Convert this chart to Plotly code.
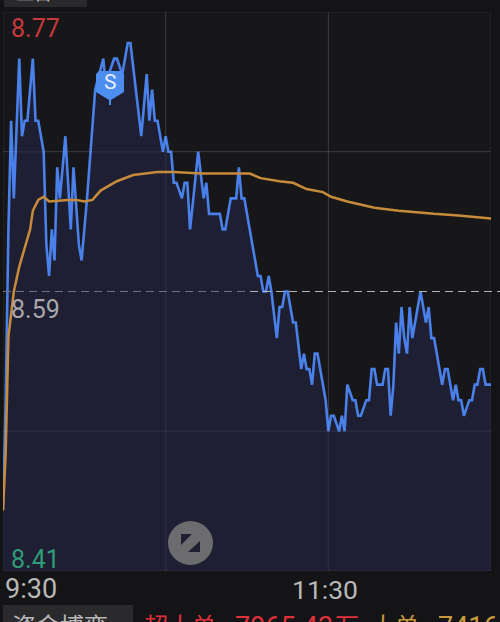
import plotly.graph_objects as go

minutes = [0,1,2,3,4,5,6,7,8,9,11,12,13,15,16,17,18,19,20,21,23,25,26,28,29,31,34,37,38,39,41,42,44,46,47,51,53,54,55,56,57,59,60,61,62,63,64,66,67,68,69,72,74,75,76,80,81,82,84,86,87,88,89,91,94,95,96,97,98,99,101,102,103,104,105,107,108,110,111,112,113,114,115,116,119,120,121,122,124,125,126,127,129,130,131,132,134,135,136,137,138,140,141,142,143,144,145,146,147,148,149,150,151,154,156,157,158,159,162,163,164,166,167,168,169,170,172,173,174,175,176,177,178,180]
prices = [8.45,8.52,8.63,8.70,8.65,8.70,8.74,8.69,8.70,8.70,8.74,8.70,8.70,8.68,8.62,8.60,8.63,8.61,8.67,8.65,8.69,8.63,8.67,8.62,8.61,8.65,8.72,8.74,8.72,8.73,8.74,8.74,8.73,8.75,8.75,8.69,8.73,8.70,8.72,8.70,8.70,8.68,8.69,8.68,8.68,8.66,8.66,8.65,8.66,8.66,8.63,8.68,8.65,8.66,8.64,8.64,8.63,8.63,8.65,8.65,8.67,8.65,8.65,8.63,8.60,8.60,8.59,8.59,8.60,8.59,8.56,8.58,8.58,8.59,8.59,8.57,8.57,8.54,8.55,8.54,8.54,8.53,8.55,8.55,8.52,8.50,8.51,8.51,8.50,8.51,8.50,8.53,8.52,8.52,8.51,8.51,8.52,8.52,8.54,8.54,8.53,8.53,8.54,8.54,8.51,8.53,8.57,8.55,8.58,8.56,8.55,8.58,8.56,8.59,8.57,8.58,8.56,8.56,8.53,8.54,8.54,8.52,8.53,8.52,8.52,8.51,8.52,8.52,8.53,8.53,8.54,8.54,8.53,8.53]

avg_minutes = [0,1,2,3,4,6,9,10,11,13,15,17,24,27,30,33,36,42,48,57,63,73,91,95,102,107,112,118,121,127,137,146,159,168,180]
avg_prices = [8.449,8.486,8.561,8.577,8.590,8.606,8.623,8.630,8.642,8.649,8.651,8.648,8.649,8.649,8.648,8.649,8.655,8.661,8.665,8.667,8.667,8.666,8.666,8.663,8.661,8.660,8.656,8.654,8.651,8.648,8.644,8.642,8.640,8.639,8.637]

grid_minutes = [0, 60, 120, 180]
grid_prices = [8.77, 8.68, 8.50, 8.41]
prev_close = 8.59
high_label, mid_label, low_label = "8.77", "8.59", "8.41"
time_labels = ["9:30", "11:30"]

W, H = 500, 622
L, R, T, B = 3, 491, 12, 571
def px(x): return (x - L) / (R - L)
def py(y): return (B - y) / (B - T)
def P(pts):
    return "M" + " L".join(f"{px(a):.4f},{py(b):.4f}" for a, b in pts) + " Z"

fig = go.Figure()
fig.add_trace(go.Scatter(x=minutes, y=prices, mode="lines", fill="tozeroy", fillcolor="#1e1f33",
                         line=dict(color="#4a80ea", width=2.6), hoverinfo="skip"))
fig.add_trace(go.Scatter(x=avg_minutes, y=avg_prices, mode="lines",
                         line=dict(color="#c78b3c", width=2.5), hoverinfo="skip"))

faint = "rgba(255,255,255,0.055)"
shapes = [dict(type="line", xref="x", yref="paper", x0=m, x1=m, y0=0, y1=1,
               line=dict(color=faint, width=1.5)) for m in grid_minutes]
shapes += [dict(type="line", xref="paper", yref="y", x0=0, x1=1, y0=p, y1=p,
                line=dict(color=faint, width=1.5)) for p in grid_prices]
shapes += [
    dict(type="line", xref="paper", yref="y", x0=0, x1=px(250), y0=prev_close, y1=prev_close,
         line=dict(color="#70707e", width=1.2, dash="8px,5px")),
    dict(type="line", xref="paper", yref="y", x0=px(250), x1=px(500), y0=prev_close, y1=prev_close,
         line=dict(color="#b4b4b4", width=1.2, dash="8px,5px")),
    # S badge
    dict(type="path", xref="paper", yref="paper", line=dict(width=0), fillcolor="#4d8df0",
         path=P([(99,71),(121,71),(124,74),(124,92),(111,100),(111,105),(109,105),(109,100),(96,92),(96,74)])),
    # round button
    dict(type="circle", xref="paper", yref="paper", x0=px(168), x1=px(213), y0=py(521), y1=py(565),
         line=dict(width=0), fillcolor="#6c6c6e"),
    dict(type="path", xref="paper", yref="paper", line=dict(width=0), fillcolor="#1e1f30",
         path=P([(181,534),(192,534),(181,545)])),
    dict(type="path", xref="paper", yref="paper", line=dict(width=0), fillcolor="#1e1f30",
         path=P([(200,541),(200,552),(188,552)])),
    # top tab and bottom tab
    dict(type="rect", xref="paper", yref="paper", x0=px(4), x1=px(87), y0=py(7), y1=py(-6),
         line=dict(width=0), fillcolor="#2a2a2c"),
    dict(type="rect", xref="paper", yref="paper", x0=px(3), x1=px(133), y0=py(640), y1=py(605),
         line=dict(width=0), fillcolor="#2a2a2c"),
]

def note(text, x, y, color, size, anchor="left", fam="Roboto"):
    return dict(text=text, xref="paper", yref="paper", x=px(x), y=py(y), xanchor=anchor, yanchor="middle",
                showarrow=False, font=dict(color=color, size=size, family=fam), xshift=0)

cjk = "Noto Sans CJK SC"
annotations = [
    note(high_label, 9, 29, "#c8393f", 25),
    note(mid_label, 9, 309, "#a8a8ac", 25),
    note(low_label, 9, 559, "#2f9b78", 25),
    note(time_labels[0], 3, 589, "#b8b8b8", 27),
    note(time_labels[1], 325, 589, "#b8b8b8", 26.5, anchor="center"),
    note("S", 110, 82, "#e8f0ff", 21, anchor="center"),
    note("资金博弈", 10, 624, "#b8b8b8", 24, fam=cjk),
    note("超大单:", 142, 624, "#e0303a", 24, fam=cjk),
    note("7965.43", 233, 627, "#e0303a", 27),
    note("万", 333, 624, "#e0303a", 24, fam=cjk),
    note("大单:", 369, 624, "#c89a3c", 24, fam=cjk),
    note("7416", 436, 627, "#c89a3c", 27),
    note("五日", 14, -8, "#c8c8c8", 18, fam=cjk),
]

fig.update_layout(
    width=W, height=H, margin=dict(l=L, r=W - R, t=T, b=H - B, pad=0, autoexpand=False),
    paper_bgcolor="#141416", plot_bgcolor="#171719", showlegend=False,
    shapes=shapes, annotations=annotations,
    xaxis=dict(range=[0, 180], tickvals=grid_minutes, showticklabels=False, ticks="",
               showgrid=True, gridcolor="#2a2a2e", gridwidth=1, zeroline=False, showline=False),
    yaxis=dict(range=[8.41, 8.77], tickvals=grid_prices, showticklabels=False, ticks="",
               showgrid=True, gridcolor="#2a2a2e", gridwidth=1, zeroline=False, showline=False),
)
fig.write_html("out.html", config=dict(displayModeBar=False),
               post_script="document.body.style.margin='0';document.body.style.overflow='hidden';document.body.style.background='#141416';")
